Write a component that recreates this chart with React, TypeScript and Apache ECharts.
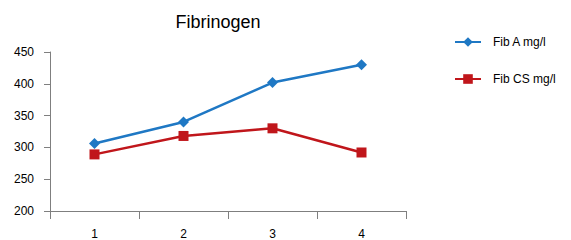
import React, { useEffect, useRef } from "react";
import * as echarts from "echarts";

const categories = ["1", "2", "3", "4"];
const fibA = [306, 340, 402, 430];
const fibCS = [289, 318, 330, 292];
const seriesNames = ["Fib A mg/l", "Fib CS mg/l"];
const titleText = "Fibrinogen";

export default function App() {
  const ref = useRef<HTMLDivElement>(null);
  useEffect(() => {
    const chart = echarts.init(ref.current!, null, { renderer: "svg" });
    const font = "'Liberation Sans', Arial, sans-serif";
    chart.setOption({
      animation: false,
      backgroundColor: "#ffffff",
      title: {
        text: titleText,
        left: 213,
        top: 8,
        textAlign: "center",
        textStyle: { fontFamily: font, fontSize: 18, fontWeight: "normal", color: "#000" },
      },
      legend: {
        orient: "vertical",
        left: 449,
        top: 31,
        itemGap: 25,
        itemWidth: 26,
        itemHeight: 12,
        data: seriesNames,
        textStyle: { fontFamily: font, fontSize: 12, color: "#000", padding: [0, 0, 0, 7] },
      },
      grid: { left: 50, top: 52, right: 165, bottom: 22, containLabel: false },
      xAxis: {
        type: "category",
        data: categories,
        boundaryGap: true,
        axisLine: { lineStyle: { color: "#7f7f7f", width: 1 } },
        axisTick: { show: true, length: 8, alignWithLabel: false, lineStyle: { color: "#7f7f7f" } },
        axisLabel: { fontFamily: font, fontSize: 12, color: "#000", margin: 17 },
      },
      yAxis: {
        type: "value",
        min: 200,
        max: 450,
        interval: 50,
        axisLine: { show: true, lineStyle: { color: "#7f7f7f", width: 1 } },
        axisTick: { show: true, length: 6, lineStyle: { color: "#7f7f7f" } },
        splitLine: { show: false },
        axisLabel: { fontFamily: font, fontSize: 12, color: "#000", margin: 16 },
      },
      series: [
        {
          name: seriesNames[0],
          type: "line",
          data: fibA,
          symbol: "diamond",
          symbolSize: 11,
          itemStyle: { color: "#1f78c4" },
          lineStyle: { color: "#1f78c4", width: 2.5 },
        },
        {
          name: seriesNames[1],
          type: "line",
          data: fibCS,
          symbol: "rect",
          symbolSize: 10,
          itemStyle: { color: "#c0161b" },
          lineStyle: { color: "#c0161b", width: 2.5 },
        },
      ],
    });
    return () => chart.dispose();
  }, []);
  return <div ref={ref} style={{ width: 571, height: 240, position: "absolute", left: 0, top: 0 }} />;
}
